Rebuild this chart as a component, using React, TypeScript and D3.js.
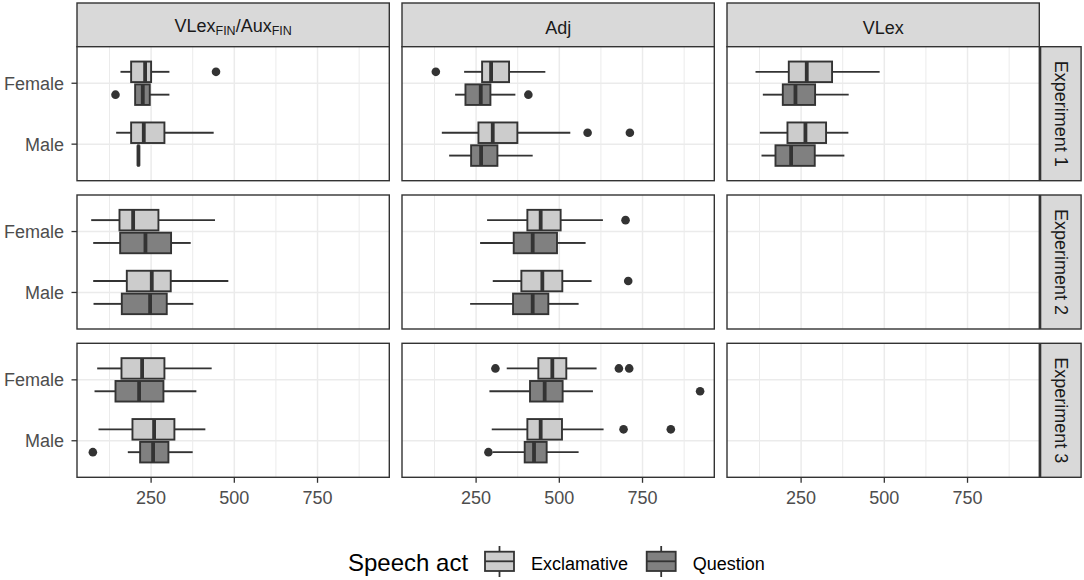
import React from "react";
import * as d3 from "d3";

const experiments = ["Experiment 1", "Experiment 2", "Experiment 3"];
const constructions = ["VLexFIN/AuxFIN", "Adj", "VLex"];
const genders = ["Female", "Male"];
const speechActs = ["Exclamative", "Question"];
const actFills = ["#CCCCCC", "#808080"];
const xTicks = [250, 500, 750];
const xMinorTicks = [125, 375, 625, 875];

// [gender, speech act, lower whisker, Q1, median, Q3, upper whisker, outliers]
type Row = [string, string, number, number, number, number, number, number[]];

const exp1VLexAux: Row[] = [
  ["Female", "Exclamative", 158, 190, 232, 250, 305, [445]],
  ["Female", "Question", 202, 202, 225, 246, 305, [143]],
  ["Male", "Exclamative", 145, 190, 228, 290, 438, []],
  ["Male", "Question", 211, 211, 212, 213, 213, []],
];
const exp1Adj: Row[] = [
  ["Female", "Exclamative", 214, 268, 295, 349, 458, [129]],
  ["Female", "Question", 187, 218, 264, 293, 368, [407]],
  ["Male", "Exclamative", 147, 257, 300, 374, 533, [585, 712]],
  ["Male", "Question", 169, 235, 265, 314, 420, []],
];
const exp1VLex: Row[] = [
  ["Female", "Exclamative", 113, 213, 267, 343, 486, []],
  ["Female", "Question", 135, 195, 233, 292, 393, []],
  ["Male", "Exclamative", 126, 209, 263, 325, 392, []],
  ["Male", "Question", 131, 173, 220, 291, 380, []],
];
const exp2VLexAux: Row[] = [
  ["Female", "Exclamative", 70, 155, 196, 272, 442, []],
  ["Female", "Question", 76, 157, 233, 310, 369, []],
  ["Male", "Exclamative", 76, 177, 252, 309, 482, []],
  ["Male", "Question", 77, 162, 247, 297, 377, []],
];
const exp2Adj: Row[] = [
  ["Female", "Exclamative", 283, 404, 444, 504, 631, [699]],
  ["Female", "Question", 262, 363, 420, 493, 579, []],
  ["Male", "Exclamative", 300, 386, 449, 509, 597, [707]],
  ["Male", "Question", 232, 361, 420, 467, 558, []],
];
const exp3VLexAux: Row[] = [
  ["Female", "Exclamative", 88, 161, 223, 290, 432, []],
  ["Female", "Question", 80, 143, 214, 287, 386, []],
  ["Male", "Exclamative", 92, 194, 259, 320, 413, []],
  ["Male", "Question", 180, 217, 256, 302, 375, [75]],
];
const exp3Adj: Row[] = [
  ["Female", "Exclamative", 342, 437, 479, 521, 612, [308, 679, 710]],
  ["Female", "Question", 290, 412, 456, 510, 601, [923]],
  ["Male", "Exclamative", 297, 404, 444, 508, 633, [693, 835]],
  ["Male", "Question", 300, 396, 424, 462, 558, [287]],
];

// rows = experiments, columns = constructions
const panelData: Row[][][] = [
  [exp1VLexAux, exp1Adj, exp1VLex],
  [exp2VLexAux, exp2Adj, []],
  [exp3VLexAux, exp3Adj, []],
];

const font = "'Liberation Sans', Arial, sans-serif";
const dark = "#333333";

export default function App() {
  const width = 1084;
  const height = 580;
  const panelX0 = 77;
  const panelW = 312.3;
  const gapX = 12.7;
  const panelY0 = 46.7;
  const panelH = 134;
  const gapY = 14.3;
  const stripTop = 3;
  const stripRightW = 40.5;

  // x range = data range expanded by 5% on each side (ggplot default)
  const allVals = panelData.flat(2).flatMap((r) => [r[2], r[6], ...r[7]]);
  const [lo, hi] = d3.extent(allVals) as [number, number];
  const pad = (hi - lo) * 0.05;
  const x = d3.scaleLinear().domain([lo - pad, hi + pad]).range([0, panelW]);
  const y = d3.scalePoint().domain(genders).range([0, panelH]).padding(0.6);
  const step = y.step();
  const dodge = d3
    .scaleBand()
    .domain(speechActs)
    .range([-0.375 * step, 0.375 * step]);
  const boxH = dodge.bandwidth() * 0.9;

  const px = (c: number) => panelX0 + c * (panelW + gapX);
  const py = (r: number) => panelY0 + r * (panelH + gapY);
  const fillOf = (act: string) => actFills[speechActs.indexOf(act)];

  const lastPanelRight = px(2) + panelW;
  const lastPanelBottom = py(2) + panelH;

  return (
    <svg
      width={width}
      height={height}
      style={{ position: "absolute", left: 0, top: 0, background: "#fff" }}
      fontFamily={font}
    >
      {/* top strips */}
      {constructions.map((c, ci) => (
        <g key={c} transform={`translate(${px(ci)},${stripTop})`}>
          <rect
            width={panelW}
            height={panelY0 - stripTop}
            fill="#D9D9D9"
            stroke={dark}
            strokeWidth={1.4}
          />
          {ci === 0 ? (
            <text x={panelW / 2} y={29} textAnchor="middle" fontSize={18} fill="#1A1A1A">
              VLex
              <tspan fontSize={12.5} dy={3}>FIN</tspan>
              <tspan dy={-3}>/Aux</tspan>
              <tspan fontSize={12.5} dy={3}>FIN</tspan>
            </text>
          ) : (
            <text x={panelW / 2} y={31} textAnchor="middle" fontSize={18} fill="#1A1A1A">
              {c}
            </text>
          )}
        </g>
      ))}

      {/* right strips */}
      {experiments.map((e, ri) => (
        <g key={e} transform={`translate(${lastPanelRight + 1.3},${py(ri)})`}>
          <rect
            width={stripRightW}
            height={panelH}
            fill="#D9D9D9"
            stroke={dark}
            strokeWidth={1.4}
          />
          <text
            transform={`translate(${stripRightW / 2 - 6.3},${panelH / 2}) rotate(90)`}
            textAnchor="middle"
            fontSize={18}
            fill="#1A1A1A"
          >
            {e}
          </text>
        </g>
      ))}

      {/* panels */}
      {panelData.map((row, ri) =>
        row.map((rows, ci) => (
          <g key={`${ri}-${ci}`} transform={`translate(${px(ci)},${py(ri)})`}>
            <rect width={panelW} height={panelH} fill="#fff" />
            {xMinorTicks.map((t) => (
              <line key={`m${t}`} x1={x(t)} x2={x(t)} y1={0} y2={panelH} stroke="#EBEBEB" strokeWidth={1} />
            ))}
            {xTicks.map((t) => (
              <line key={`M${t}`} x1={x(t)} x2={x(t)} y1={0} y2={panelH} stroke="#EBEBEB" strokeWidth={1.5} />
            ))}
            {genders.map((g) => (
              <line key={g} x1={0} x2={panelW} y1={y(g)} y2={y(g)} stroke="#EBEBEB" strokeWidth={1.5} />
            ))}
            {rows.map(([g, act, wlo, q1, med, q3, whi, outs]) => {
              const cy = (y(g) as number) + (dodge(act) as number) + dodge.bandwidth() / 2;
              return (
                <g key={`${g}-${act}`}>
                  <line x1={x(wlo)} x2={x(q1)} y1={cy} y2={cy} stroke={dark} strokeWidth={1.9} />
                  <line x1={x(q3)} x2={x(whi)} y1={cy} y2={cy} stroke={dark} strokeWidth={1.9} />
                  <rect
                    x={x(q1)}
                    y={cy - boxH / 2}
                    width={x(q3) - x(q1)}
                    height={boxH}
                    fill={fillOf(act)}
                    stroke={dark}
                    strokeWidth={1.9}
                  />
                  <line
                    x1={x(med)}
                    x2={x(med)}
                    y1={cy - boxH / 2}
                    y2={cy + boxH / 2}
                    stroke={dark}
                    strokeWidth={3.8}
                  />
                  {outs.map((o, i) => (
                    <circle key={i} cx={x(o)} cy={cy} r={4.3} fill={dark} />
                  ))}
                </g>
              );
            })}
            <rect width={panelW} height={panelH} fill="none" stroke={dark} strokeWidth={1.4} />
          </g>
        ))
      )}

      {/* y axis */}
      {experiments.map((e, ri) => (
        <g key={`y${e}`} transform={`translate(${px(0)},${py(ri)})`}>
          {genders.map((g) => (
            <g key={g} transform={`translate(0,${y(g)})`}>
              <line x1={-5.5} x2={0} stroke={dark} strokeWidth={1.3} />
              <text x={-13} y={6.4} textAnchor="end" fontSize={18} fill="#4D4D4D">
                {g}
              </text>
            </g>
          ))}
        </g>
      ))}

      {/* x axis */}
      {constructions.map((c, ci) => (
        <g key={`x${c}`} transform={`translate(${px(ci)},${lastPanelBottom})`}>
          {xTicks.map((t) => (
            <g key={t} transform={`translate(${x(t)},0)`}>
              <line y1={0} y2={5.5} stroke={dark} strokeWidth={1.3} />
              <text y={27} textAnchor="middle" fontSize={18} fill="#4D4D4D">
                {t}
              </text>
            </g>
          ))}
        </g>
      ))}

      {/* legend */}
      <g>
        <text x={348} y={571} fontSize={24} fill="#000">
          Speech act
        </text>
        {speechActs.map((act, i) => {
          const kx = [485, 646.7][i];
          const kw = 29;
          return (
            <g key={act} transform={`translate(${kx},0)`}>
              <line x1={kw / 2} x2={kw / 2} y1={546} y2={577} stroke={dark} strokeWidth={1.8} />
              <rect x={0} y={551.7} width={kw} height={19.3} fill={actFills[i]} stroke={dark} strokeWidth={1.8} />
              <line x1={0} x2={kw} y1={561.3} y2={561.3} stroke={dark} strokeWidth={1.8} />
              <text x={kw + 17} y={570} fontSize={18} fill="#000">
                {act}
              </text>
            </g>
          );
        })}
      </g>
    </svg>
  );
}
